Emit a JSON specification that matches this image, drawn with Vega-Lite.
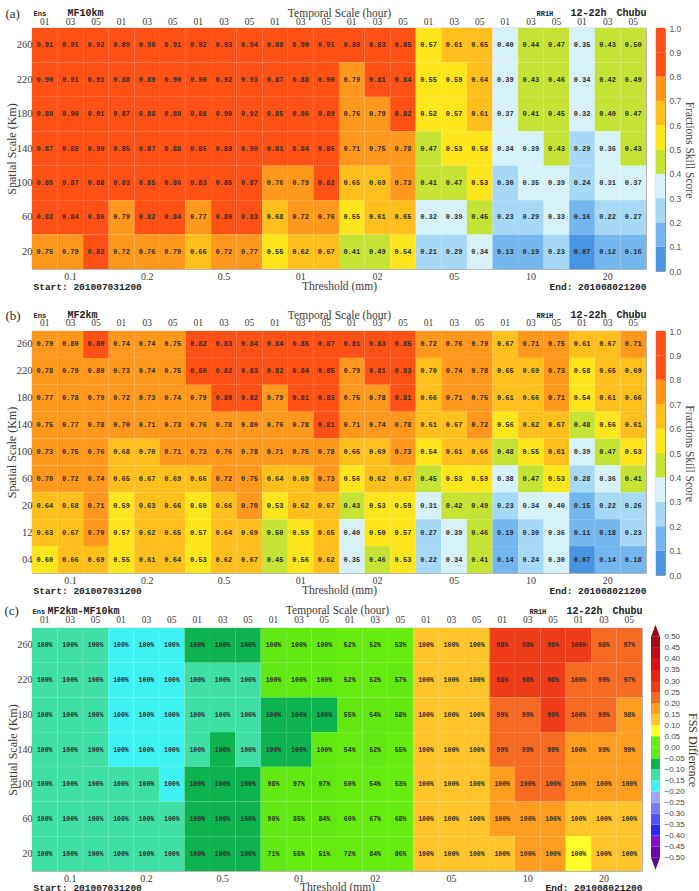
{
  "$schema": "https://vega.github.io/schema/vega-lite/v6.json",
  "background": "white",
  "padding": {"left": 3, "top": 6, "right": 0, "bottom": 0},
  "config": {
    "font": "Liberation Serif",
    "view": {"stroke": "#8c8c8c", "strokeWidth": 0.8},
    "axis": {"ticks": false, "domain": false, "grid": false, "labelFont": "Liberation Serif", "titleFont": "Liberation Serif", "labelColor": "#3a3a3a", "titleColor": "#3a3a3a", "titleFontWeight": "normal", "labelOverlap": false, "labelFlush": false}
  },
  "datasets": {
    "fssbar": [
      {"lo": 0, "hi": 0.1, "m": 0.05}, {"lo": 0.1, "hi": 0.2, "m": 0.15}, {"lo": 0.2, "hi": 0.3, "m": 0.25}, {"lo": 0.3, "hi": 0.4, "m": 0.35}, {"lo": 0.4, "hi": 0.5, "m": 0.45},
      {"lo": 0.5, "hi": 0.6, "m": 0.55}, {"lo": 0.6, "hi": 0.7, "m": 0.65}, {"lo": 0.7, "hi": 0.8, "m": 0.75}, {"lo": 0.8, "hi": 0.9, "m": 0.85}, {"lo": 0.9, "hi": 1, "m": 0.95}
    ],
    "diffbar": [
      {"lo": -0.5, "hi": -0.45, "m": -0.475}, {"lo": -0.45, "hi": -0.4, "m": -0.425}, {"lo": -0.4, "hi": -0.35, "m": -0.375}, {"lo": -0.35, "hi": -0.3, "m": -0.325},
      {"lo": -0.3, "hi": -0.25, "m": -0.275}, {"lo": -0.25, "hi": -0.2, "m": -0.225}, {"lo": -0.2, "hi": -0.15, "m": -0.175}, {"lo": -0.15, "hi": -0.1, "m": -0.125},
      {"lo": -0.1, "hi": -0.05, "m": -0.075}, {"lo": -0.05, "hi": 0, "m": -0.025}, {"lo": 0, "hi": 0.05, "m": 0.025}, {"lo": 0.05, "hi": 0.1, "m": 0.075},
      {"lo": 0.1, "hi": 0.15, "m": 0.125}, {"lo": 0.15, "hi": 0.2, "m": 0.175}, {"lo": 0.2, "hi": 0.25, "m": 0.225}, {"lo": 0.25, "hi": 0.3, "m": 0.275},
      {"lo": 0.3, "hi": 0.35, "m": 0.325}, {"lo": 0.35, "hi": 0.4, "m": 0.375}, {"lo": 0.4, "hi": 0.45, "m": 0.425}, {"lo": 0.45, "hi": 0.5, "m": 0.475}
    ],
    "ends": [{"b": 0.5, "side": "above", "m": 0.6}, {"b": -0.5, "side": "below", "m": -0.6}],
    "a": [
      {"c":"0.1 01","k":"260","v":0.91},{"c":"0.1 03","k":"260","v":0.91},{"c":"0.1 05","k":"260","v":0.92},{"c":"0.2 01","k":"260","v":0.89},{"c":"0.2 03","k":"260","v":0.9},{"c":"0.2 05","k":"260","v":0.91},
      {"c":"0.5 01","k":"260","v":0.92},{"c":"0.5 03","k":"260","v":0.93},{"c":"0.5 05","k":"260","v":0.94},{"c":"01 01","k":"260","v":0.88},{"c":"01 03","k":"260","v":0.9},{"c":"01 05","k":"260","v":0.91},
      {"c":"02 01","k":"260","v":0.8},{"c":"02 03","k":"260","v":0.83},{"c":"02 05","k":"260","v":0.85},{"c":"05 01","k":"260","v":0.57},{"c":"05 03","k":"260","v":0.61},{"c":"05 05","k":"260","v":0.65},
      {"c":"10 01","k":"260","v":0.398},{"c":"10 03","k":"260","v":0.44},{"c":"10 05","k":"260","v":0.47},{"c":"20 01","k":"260","v":0.35},{"c":"20 03","k":"260","v":0.43},{"c":"20 05","k":"260","v":0.498},
      {"c":"0.1 01","k":"220","v":0.9},{"c":"0.1 03","k":"220","v":0.91},{"c":"0.1 05","k":"220","v":0.91},{"c":"0.2 01","k":"220","v":0.88},{"c":"0.2 03","k":"220","v":0.89},{"c":"0.2 05","k":"220","v":0.9},
      {"c":"0.5 01","k":"220","v":0.9},{"c":"0.5 03","k":"220","v":0.92},{"c":"0.5 05","k":"220","v":0.93},{"c":"01 01","k":"220","v":0.87},{"c":"01 03","k":"220","v":0.88},{"c":"01 05","k":"220","v":0.9},
      {"c":"02 01","k":"220","v":0.79},{"c":"02 03","k":"220","v":0.81},{"c":"02 05","k":"220","v":0.84},{"c":"05 01","k":"220","v":0.55},{"c":"05 03","k":"220","v":0.59},{"c":"05 05","k":"220","v":0.64},
      {"c":"10 01","k":"220","v":0.39},{"c":"10 03","k":"220","v":0.43},{"c":"10 05","k":"220","v":0.46},{"c":"20 01","k":"220","v":0.34},{"c":"20 03","k":"220","v":0.42},{"c":"20 05","k":"220","v":0.49},
      {"c":"0.1 01","k":"180","v":0.89},{"c":"0.1 03","k":"180","v":0.9},{"c":"0.1 05","k":"180","v":0.91},{"c":"0.2 01","k":"180","v":0.87},{"c":"0.2 03","k":"180","v":0.88},{"c":"0.2 05","k":"180","v":0.89},
      {"c":"0.5 01","k":"180","v":0.88},{"c":"0.5 03","k":"180","v":0.9},{"c":"0.5 05","k":"180","v":0.92},{"c":"01 01","k":"180","v":0.85},{"c":"01 03","k":"180","v":0.86},{"c":"01 05","k":"180","v":0.89},
      {"c":"02 01","k":"180","v":0.76},{"c":"02 03","k":"180","v":0.79},{"c":"02 05","k":"180","v":0.82},{"c":"05 01","k":"180","v":0.52},{"c":"05 03","k":"180","v":0.57},{"c":"05 05","k":"180","v":0.61},
      {"c":"10 01","k":"180","v":0.37},{"c":"10 03","k":"180","v":0.41},{"c":"10 05","k":"180","v":0.45},{"c":"20 01","k":"180","v":0.32},{"c":"20 03","k":"180","v":0.4},{"c":"20 05","k":"180","v":0.47},
      {"c":"0.1 01","k":"140","v":0.87},{"c":"0.1 03","k":"140","v":0.88},{"c":"0.1 05","k":"140","v":0.9},{"c":"0.2 01","k":"140","v":0.85},{"c":"0.2 03","k":"140","v":0.87},{"c":"0.2 05","k":"140","v":0.88},
      {"c":"0.5 01","k":"140","v":0.86},{"c":"0.5 03","k":"140","v":0.88},{"c":"0.5 05","k":"140","v":0.9},{"c":"01 01","k":"140","v":0.81},{"c":"01 03","k":"140","v":0.84},{"c":"01 05","k":"140","v":0.86},
      {"c":"02 01","k":"140","v":0.71},{"c":"02 03","k":"140","v":0.75},{"c":"02 05","k":"140","v":0.78},{"c":"05 01","k":"140","v":0.47},{"c":"05 03","k":"140","v":0.53},{"c":"05 05","k":"140","v":0.58},
      {"c":"10 01","k":"140","v":0.34},{"c":"10 03","k":"140","v":0.39},{"c":"10 05","k":"140","v":0.43},{"c":"20 01","k":"140","v":0.29},{"c":"20 03","k":"140","v":0.36},{"c":"20 05","k":"140","v":0.43},
      {"c":"0.1 01","k":"100","v":0.85},{"c":"0.1 03","k":"100","v":0.87},{"c":"0.1 05","k":"100","v":0.88},{"c":"0.2 01","k":"100","v":0.83},{"c":"0.2 03","k":"100","v":0.85},{"c":"0.2 05","k":"100","v":0.86},
      {"c":"0.5 01","k":"100","v":0.83},{"c":"0.5 03","k":"100","v":0.85},{"c":"0.5 05","k":"100","v":0.87},{"c":"01 01","k":"100","v":0.76},{"c":"01 03","k":"100","v":0.79},{"c":"01 05","k":"100","v":0.82},
      {"c":"02 01","k":"100","v":0.65},{"c":"02 03","k":"100","v":0.69},{"c":"02 05","k":"100","v":0.73},{"c":"05 01","k":"100","v":0.41},{"c":"05 03","k":"100","v":0.47},{"c":"05 05","k":"100","v":0.53},
      {"c":"10 01","k":"100","v":0.298},{"c":"10 03","k":"100","v":0.35},{"c":"10 05","k":"100","v":0.39},{"c":"20 01","k":"100","v":0.24},{"c":"20 03","k":"100","v":0.31},{"c":"20 05","k":"100","v":0.37},
      {"c":"0.1 01","k":"60","v":0.82},{"c":"0.1 03","k":"60","v":0.84},{"c":"0.1 05","k":"60","v":0.86},{"c":"0.2 01","k":"60","v":0.79},{"c":"0.2 03","k":"60","v":0.82},{"c":"0.2 05","k":"60","v":0.84},
      {"c":"0.5 01","k":"60","v":0.77},{"c":"0.5 03","k":"60","v":0.8},{"c":"0.5 05","k":"60","v":0.83},{"c":"01 01","k":"60","v":0.68},{"c":"01 03","k":"60","v":0.72},{"c":"01 05","k":"60","v":0.76},
      {"c":"02 01","k":"60","v":0.55},{"c":"02 03","k":"60","v":0.61},{"c":"02 05","k":"60","v":0.65},{"c":"05 01","k":"60","v":0.32},{"c":"05 03","k":"60","v":0.39},{"c":"05 05","k":"60","v":0.45},
      {"c":"10 01","k":"60","v":0.23},{"c":"10 03","k":"60","v":0.29},{"c":"10 05","k":"60","v":0.33},{"c":"20 01","k":"60","v":0.16},{"c":"20 03","k":"60","v":0.22},{"c":"20 05","k":"60","v":0.27},
      {"c":"0.1 01","k":"20","v":0.75},{"c":"0.1 03","k":"20","v":0.79},{"c":"0.1 05","k":"20","v":0.82},{"c":"0.2 01","k":"20","v":0.72},{"c":"0.2 03","k":"20","v":0.76},{"c":"0.2 05","k":"20","v":0.79},
      {"c":"0.5 01","k":"20","v":0.66},{"c":"0.5 03","k":"20","v":0.72},{"c":"0.5 05","k":"20","v":0.77},{"c":"01 01","k":"20","v":0.55},{"c":"01 03","k":"20","v":0.62},{"c":"01 05","k":"20","v":0.67},
      {"c":"02 01","k":"20","v":0.41},{"c":"02 03","k":"20","v":0.49},{"c":"02 05","k":"20","v":0.54},{"c":"05 01","k":"20","v":0.21},{"c":"05 03","k":"20","v":0.29},{"c":"05 05","k":"20","v":0.34},
      {"c":"10 01","k":"20","v":0.13},{"c":"10 03","k":"20","v":0.19},{"c":"10 05","k":"20","v":0.23},{"c":"20 01","k":"20","v":0.07},{"c":"20 03","k":"20","v":0.12},{"c":"20 05","k":"20","v":0.16}
    ],
    "b": [
      {"c":"0.1 01","k":"260","v":0.79},{"c":"0.1 03","k":"260","v":0.798},{"c":"0.1 05","k":"260","v":0.8},{"c":"0.2 01","k":"260","v":0.74},{"c":"0.2 03","k":"260","v":0.74},{"c":"0.2 05","k":"260","v":0.75},
      {"c":"0.5 01","k":"260","v":0.82},{"c":"0.5 03","k":"260","v":0.83},{"c":"0.5 05","k":"260","v":0.84},{"c":"01 01","k":"260","v":0.84},{"c":"01 03","k":"260","v":0.85},{"c":"01 05","k":"260","v":0.87},
      {"c":"02 01","k":"260","v":0.81},{"c":"02 03","k":"260","v":0.83},{"c":"02 05","k":"260","v":0.85},{"c":"05 01","k":"260","v":0.72},{"c":"05 03","k":"260","v":0.76},{"c":"05 05","k":"260","v":0.79},
      {"c":"10 01","k":"260","v":0.67},{"c":"10 03","k":"260","v":0.71},{"c":"10 05","k":"260","v":0.75},{"c":"20 01","k":"260","v":0.61},{"c":"20 03","k":"260","v":0.67},{"c":"20 05","k":"260","v":0.71},
      {"c":"0.1 01","k":"220","v":0.78},{"c":"0.1 03","k":"220","v":0.79},{"c":"0.1 05","k":"220","v":0.798},{"c":"0.2 01","k":"220","v":0.73},{"c":"0.2 03","k":"220","v":0.74},{"c":"0.2 05","k":"220","v":0.75},
      {"c":"0.5 01","k":"220","v":0.8},{"c":"0.5 03","k":"220","v":0.82},{"c":"0.5 05","k":"220","v":0.83},{"c":"01 01","k":"220","v":0.82},{"c":"01 03","k":"220","v":0.84},{"c":"01 05","k":"220","v":0.85},
      {"c":"02 01","k":"220","v":0.79},{"c":"02 03","k":"220","v":0.81},{"c":"02 05","k":"220","v":0.83},{"c":"05 01","k":"220","v":0.698},{"c":"05 03","k":"220","v":0.74},{"c":"05 05","k":"220","v":0.78},
      {"c":"10 01","k":"220","v":0.65},{"c":"10 03","k":"220","v":0.69},{"c":"10 05","k":"220","v":0.73},{"c":"20 01","k":"220","v":0.58},{"c":"20 03","k":"220","v":0.65},{"c":"20 05","k":"220","v":0.69},
      {"c":"0.1 01","k":"180","v":0.77},{"c":"0.1 03","k":"180","v":0.78},{"c":"0.1 05","k":"180","v":0.79},{"c":"0.2 01","k":"180","v":0.72},{"c":"0.2 03","k":"180","v":0.73},{"c":"0.2 05","k":"180","v":0.74},
      {"c":"0.5 01","k":"180","v":0.79},{"c":"0.5 03","k":"180","v":0.8},{"c":"0.5 05","k":"180","v":0.82},{"c":"01 01","k":"180","v":0.79},{"c":"01 03","k":"180","v":0.81},{"c":"01 05","k":"180","v":0.83},
      {"c":"02 01","k":"180","v":0.75},{"c":"02 03","k":"180","v":0.78},{"c":"02 05","k":"180","v":0.81},{"c":"05 01","k":"180","v":0.66},{"c":"05 03","k":"180","v":0.71},{"c":"05 05","k":"180","v":0.75},
      {"c":"10 01","k":"180","v":0.61},{"c":"10 03","k":"180","v":0.66},{"c":"10 05","k":"180","v":0.71},{"c":"20 01","k":"180","v":0.54},{"c":"20 03","k":"180","v":0.61},{"c":"20 05","k":"180","v":0.66},
      {"c":"0.1 01","k":"140","v":0.75},{"c":"0.1 03","k":"140","v":0.77},{"c":"0.1 05","k":"140","v":0.78},{"c":"0.2 01","k":"140","v":0.7},{"c":"0.2 03","k":"140","v":0.71},{"c":"0.2 05","k":"140","v":0.73},
      {"c":"0.5 01","k":"140","v":0.76},{"c":"0.5 03","k":"140","v":0.78},{"c":"0.5 05","k":"140","v":0.798},{"c":"01 01","k":"140","v":0.76},{"c":"01 03","k":"140","v":0.78},{"c":"01 05","k":"140","v":0.81},
      {"c":"02 01","k":"140","v":0.71},{"c":"02 03","k":"140","v":0.74},{"c":"02 05","k":"140","v":0.78},{"c":"05 01","k":"140","v":0.61},{"c":"05 03","k":"140","v":0.67},{"c":"05 05","k":"140","v":0.72},
      {"c":"10 01","k":"140","v":0.56},{"c":"10 03","k":"140","v":0.62},{"c":"10 05","k":"140","v":0.67},{"c":"20 01","k":"140","v":0.48},{"c":"20 03","k":"140","v":0.56},{"c":"20 05","k":"140","v":0.61},
      {"c":"0.1 01","k":"100","v":0.73},{"c":"0.1 03","k":"100","v":0.75},{"c":"0.1 05","k":"100","v":0.76},{"c":"0.2 01","k":"100","v":0.68},{"c":"0.2 03","k":"100","v":0.698},{"c":"0.2 05","k":"100","v":0.71},
      {"c":"0.5 01","k":"100","v":0.73},{"c":"0.5 03","k":"100","v":0.76},{"c":"0.5 05","k":"100","v":0.78},{"c":"01 01","k":"100","v":0.71},{"c":"01 03","k":"100","v":0.75},{"c":"01 05","k":"100","v":0.78},
      {"c":"02 01","k":"100","v":0.65},{"c":"02 03","k":"100","v":0.69},{"c":"02 05","k":"100","v":0.73},{"c":"05 01","k":"100","v":0.54},{"c":"05 03","k":"100","v":0.61},{"c":"05 05","k":"100","v":0.66},
      {"c":"10 01","k":"100","v":0.48},{"c":"10 03","k":"100","v":0.55},{"c":"10 05","k":"100","v":0.61},{"c":"20 01","k":"100","v":0.39},{"c":"20 03","k":"100","v":0.47},{"c":"20 05","k":"100","v":0.53},
      {"c":"0.1 01","k":"60","v":0.7},{"c":"0.1 03","k":"60","v":0.72},{"c":"0.1 05","k":"60","v":0.74},{"c":"0.2 01","k":"60","v":0.65},{"c":"0.2 03","k":"60","v":0.67},{"c":"0.2 05","k":"60","v":0.69},
      {"c":"0.5 01","k":"60","v":0.66},{"c":"0.5 03","k":"60","v":0.72},{"c":"0.5 05","k":"60","v":0.75},{"c":"01 01","k":"60","v":0.64},{"c":"01 03","k":"60","v":0.69},{"c":"01 05","k":"60","v":0.73},
      {"c":"02 01","k":"60","v":0.56},{"c":"02 03","k":"60","v":0.62},{"c":"02 05","k":"60","v":0.67},{"c":"05 01","k":"60","v":0.45},{"c":"05 03","k":"60","v":0.53},{"c":"05 05","k":"60","v":0.59},
      {"c":"10 01","k":"60","v":0.38},{"c":"10 03","k":"60","v":0.47},{"c":"10 05","k":"60","v":0.53},{"c":"20 01","k":"60","v":0.28},{"c":"20 03","k":"60","v":0.36},{"c":"20 05","k":"60","v":0.41},
      {"c":"0.1 01","k":"20","v":0.64},{"c":"0.1 03","k":"20","v":0.68},{"c":"0.1 05","k":"20","v":0.71},{"c":"0.2 01","k":"20","v":0.59},{"c":"0.2 03","k":"20","v":0.63},{"c":"0.2 05","k":"20","v":0.66},
      {"c":"0.5 01","k":"20","v":0.598},{"c":"0.5 03","k":"20","v":0.66},{"c":"0.5 05","k":"20","v":0.7},{"c":"01 01","k":"20","v":0.53},{"c":"01 03","k":"20","v":0.62},{"c":"01 05","k":"20","v":0.67},
      {"c":"02 01","k":"20","v":0.43},{"c":"02 03","k":"20","v":0.53},{"c":"02 05","k":"20","v":0.59},{"c":"05 01","k":"20","v":0.31},{"c":"05 03","k":"20","v":0.42},{"c":"05 05","k":"20","v":0.49},
      {"c":"10 01","k":"20","v":0.23},{"c":"10 03","k":"20","v":0.34},{"c":"10 05","k":"20","v":0.398},{"c":"20 01","k":"20","v":0.15},{"c":"20 03","k":"20","v":0.22},{"c":"20 05","k":"20","v":0.26},
      {"c":"0.1 01","k":"12","v":0.63},{"c":"0.1 03","k":"12","v":0.67},{"c":"0.1 05","k":"12","v":0.7},{"c":"0.2 01","k":"12","v":0.57},{"c":"0.2 03","k":"12","v":0.62},{"c":"0.2 05","k":"12","v":0.65},
      {"c":"0.5 01","k":"12","v":0.57},{"c":"0.5 03","k":"12","v":0.64},{"c":"0.5 05","k":"12","v":0.69},{"c":"01 01","k":"12","v":0.498},{"c":"01 03","k":"12","v":0.59},{"c":"01 05","k":"12","v":0.65},
      {"c":"02 01","k":"12","v":0.398},{"c":"02 03","k":"12","v":0.5},{"c":"02 05","k":"12","v":0.57},{"c":"05 01","k":"12","v":0.27},{"c":"05 03","k":"12","v":0.39},{"c":"05 05","k":"12","v":0.46},
      {"c":"10 01","k":"12","v":0.19},{"c":"10 03","k":"12","v":0.298},{"c":"10 05","k":"12","v":0.36},{"c":"20 01","k":"12","v":0.11},{"c":"20 03","k":"12","v":0.18},{"c":"20 05","k":"12","v":0.23},
      {"c":"0.1 01","k":"04","v":0.598},{"c":"0.1 03","k":"04","v":0.66},{"c":"0.1 05","k":"04","v":0.69},{"c":"0.2 01","k":"04","v":0.55},{"c":"0.2 03","k":"04","v":0.61},{"c":"0.2 05","k":"04","v":0.64},
      {"c":"0.5 01","k":"04","v":0.53},{"c":"0.5 03","k":"04","v":0.62},{"c":"0.5 05","k":"04","v":0.67},{"c":"01 01","k":"04","v":0.45},{"c":"01 03","k":"04","v":0.56},{"c":"01 05","k":"04","v":0.62},
      {"c":"02 01","k":"04","v":0.35},{"c":"02 03","k":"04","v":0.46},{"c":"02 05","k":"04","v":0.53},{"c":"05 01","k":"04","v":0.22},{"c":"05 03","k":"04","v":0.34},{"c":"05 05","k":"04","v":0.41},
      {"c":"10 01","k":"04","v":0.14},{"c":"10 03","k":"04","v":0.24},{"c":"10 05","k":"04","v":0.3},{"c":"20 01","k":"04","v":0.07},{"c":"20 03","k":"04","v":0.14},{"c":"20 05","k":"04","v":0.18}
    ],
    "c": [
      {"c":"0.1 01","k":"260","d":-0.12,"p":1},{"c":"0.1 03","k":"260","d":-0.11,"p":1},{"c":"0.1 05","k":"260","d":-0.12,"p":1},{"c":"0.2 01","k":"260","d":-0.152,"p":1},{"c":"0.2 03","k":"260","d":-0.16,"p":1},{"c":"0.2 05","k":"260","d":-0.16,"p":1},
      {"c":"0.5 01","k":"260","d":-0.1,"p":1},{"c":"0.5 03","k":"260","d":-0.1,"p":1},{"c":"0.5 05","k":"260","d":-0.1,"p":1},{"c":"01 01","k":"260","d":-0.04,"p":1},{"c":"01 03","k":"260","d":-0.048,"p":1},{"c":"01 05","k":"260","d":-0.04,"p":1},
      {"c":"02 01","k":"260","d":0.01,"p":0.52},{"c":"02 03","k":"260","d":0,"p":0.52},{"c":"02 05","k":"260","d":0,"p":0.53},{"c":"05 01","k":"260","d":0.148,"p":1},{"c":"05 03","k":"260","d":0.148,"p":1},{"c":"05 05","k":"260","d":0.14,"p":1},
      {"c":"10 01","k":"260","d":0.27,"p":0.98},{"c":"10 03","k":"260","d":0.27,"p":0.98},{"c":"10 05","k":"260","d":0.28,"p":0.98},{"c":"20 01","k":"260","d":0.26,"p":1},{"c":"20 03","k":"260","d":0.24,"p":0.98},{"c":"20 05","k":"260","d":0.21,"p":0.97},
      {"c":"0.1 01","k":"220","d":-0.12,"p":1},{"c":"0.1 03","k":"220","d":-0.12,"p":1},{"c":"0.1 05","k":"220","d":-0.11,"p":1},{"c":"0.2 01","k":"220","d":-0.152,"p":1},{"c":"0.2 03","k":"220","d":-0.152,"p":1},{"c":"0.2 05","k":"220","d":-0.152,"p":1},
      {"c":"0.5 01","k":"220","d":-0.102,"p":1},{"c":"0.5 03","k":"220","d":-0.102,"p":1},{"c":"0.5 05","k":"220","d":-0.102,"p":1},{"c":"01 01","k":"220","d":-0.048,"p":1},{"c":"01 03","k":"220","d":-0.04,"p":1},{"c":"01 05","k":"220","d":-0.048,"p":1},
      {"c":"02 01","k":"220","d":0,"p":0.52},{"c":"02 03","k":"220","d":0,"p":0.52},{"c":"02 05","k":"220","d":-0.01,"p":0.57},{"c":"05 01","k":"220","d":0.148,"p":1},{"c":"05 03","k":"220","d":0.148,"p":1},{"c":"05 05","k":"220","d":0.14,"p":1},
      {"c":"10 01","k":"220","d":0.26,"p":0.98},{"c":"10 03","k":"220","d":0.26,"p":0.98},{"c":"10 05","k":"220","d":0.27,"p":0.98},{"c":"20 01","k":"220","d":0.24,"p":1},{"c":"20 03","k":"220","d":0.23,"p":0.99},{"c":"20 05","k":"220","d":0.2,"p":0.97},
      {"c":"0.1 01","k":"180","d":-0.12,"p":1},{"c":"0.1 03","k":"180","d":-0.12,"p":1},{"c":"0.1 05","k":"180","d":-0.12,"p":1},{"c":"0.2 01","k":"180","d":-0.152,"p":1},{"c":"0.2 03","k":"180","d":-0.152,"p":1},{"c":"0.2 05","k":"180","d":-0.152,"p":1},
      {"c":"0.5 01","k":"180","d":-0.105,"p":1},{"c":"0.5 03","k":"180","d":-0.105,"p":1},{"c":"0.5 05","k":"180","d":-0.105,"p":1},{"c":"01 01","k":"180","d":-0.06,"p":1},{"c":"01 03","k":"180","d":-0.052,"p":1},{"c":"01 05","k":"180","d":-0.06,"p":1},
      {"c":"02 01","k":"180","d":-0.01,"p":0.55},{"c":"02 03","k":"180","d":-0.01,"p":0.54},{"c":"02 05","k":"180","d":-0.01,"p":0.58},{"c":"05 01","k":"180","d":0.14,"p":1},{"c":"05 03","k":"180","d":0.14,"p":1},{"c":"05 05","k":"180","d":0.14,"p":1},
      {"c":"10 01","k":"180","d":0.24,"p":0.99},{"c":"10 03","k":"180","d":0.248,"p":0.99},{"c":"10 05","k":"180","d":0.26,"p":0.99},{"c":"20 01","k":"180","d":0.22,"p":1},{"c":"20 03","k":"180","d":0.21,"p":0.99},{"c":"20 05","k":"180","d":0.19,"p":0.98},
      {"c":"0.1 01","k":"140","d":-0.12,"p":1},{"c":"0.1 03","k":"140","d":-0.11,"p":1},{"c":"0.1 05","k":"140","d":-0.12,"p":1},{"c":"0.2 01","k":"140","d":-0.152,"p":1},{"c":"0.2 03","k":"140","d":-0.16,"p":1},{"c":"0.2 05","k":"140","d":-0.152,"p":1},
      {"c":"0.5 01","k":"140","d":-0.102,"p":1},{"c":"0.5 03","k":"140","d":-0.098,"p":1},{"c":"0.5 05","k":"140","d":-0.102,"p":1},{"c":"01 01","k":"140","d":-0.052,"p":1},{"c":"01 03","k":"140","d":-0.06,"p":1},{"c":"01 05","k":"140","d":-0.048,"p":1},
      {"c":"02 01","k":"140","d":0,"p":0.54},{"c":"02 03","k":"140","d":-0.01,"p":0.52},{"c":"02 05","k":"140","d":0,"p":0.55},{"c":"05 01","k":"140","d":0.14,"p":1},{"c":"05 03","k":"140","d":0.14,"p":1},{"c":"05 05","k":"140","d":0.14,"p":1},
      {"c":"10 01","k":"140","d":0.22,"p":0.99},{"c":"10 03","k":"140","d":0.23,"p":0.99},{"c":"10 05","k":"140","d":0.24,"p":0.99},{"c":"20 01","k":"140","d":0.19,"p":1},{"c":"20 03","k":"140","d":0.198,"p":0.99},{"c":"20 05","k":"140","d":0.18,"p":0.99},
      {"c":"0.1 01","k":"100","d":-0.12,"p":1},{"c":"0.1 03","k":"100","d":-0.12,"p":1},{"c":"0.1 05","k":"100","d":-0.12,"p":1},{"c":"0.2 01","k":"100","d":-0.148,"p":1},{"c":"0.2 03","k":"100","d":-0.148,"p":1},{"c":"0.2 05","k":"100","d":-0.152,"p":1},
      {"c":"0.5 01","k":"100","d":-0.1,"p":1},{"c":"0.5 03","k":"100","d":-0.09,"p":1},{"c":"0.5 05","k":"100","d":-0.09,"p":1},{"c":"01 01","k":"100","d":-0.048,"p":0.98},{"c":"01 03","k":"100","d":-0.04,"p":0.97},{"c":"01 05","k":"100","d":-0.04,"p":0.97},
      {"c":"02 01","k":"100","d":0,"p":0.5},{"c":"02 03","k":"100","d":0,"p":0.54},{"c":"02 05","k":"100","d":0,"p":0.53},{"c":"05 01","k":"100","d":0.13,"p":1},{"c":"05 03","k":"100","d":0.14,"p":1},{"c":"05 05","k":"100","d":0.13,"p":1},
      {"c":"10 01","k":"100","d":0.18,"p":1},{"c":"10 03","k":"100","d":0.2,"p":1},{"c":"10 05","k":"100","d":0.22,"p":1},{"c":"20 01","k":"100","d":0.15,"p":1},{"c":"20 03","k":"100","d":0.16,"p":1},{"c":"20 05","k":"100","d":0.16,"p":1},
      {"c":"0.1 01","k":"60","d":-0.12,"p":1},{"c":"0.1 03","k":"60","d":-0.12,"p":1},{"c":"0.1 05","k":"60","d":-0.12,"p":1},{"c":"0.2 01","k":"60","d":-0.14,"p":1},{"c":"0.2 03","k":"60","d":-0.148,"p":1},{"c":"0.2 05","k":"60","d":-0.148,"p":1},
      {"c":"0.5 01","k":"60","d":-0.09,"p":1},{"c":"0.5 03","k":"60","d":-0.08,"p":1},{"c":"0.5 05","k":"60","d":-0.08,"p":1},{"c":"01 01","k":"60","d":-0.04,"p":0.9},{"c":"01 03","k":"60","d":-0.03,"p":0.85},{"c":"01 05","k":"60","d":-0.03,"p":0.84},
      {"c":"02 01","k":"60","d":0.01,"p":0.6},{"c":"02 03","k":"60","d":0.01,"p":0.67},{"c":"02 05","k":"60","d":0.02,"p":0.68},{"c":"05 01","k":"60","d":0.13,"p":1},{"c":"05 03","k":"60","d":0.14,"p":1},{"c":"05 05","k":"60","d":0.14,"p":1},
      {"c":"10 01","k":"60","d":0.15,"p":1},{"c":"10 03","k":"60","d":0.18,"p":1},{"c":"10 05","k":"60","d":0.198,"p":1},{"c":"20 01","k":"60","d":0.12,"p":1},{"c":"20 03","k":"60","d":0.14,"p":1},{"c":"20 05","k":"60","d":0.14,"p":1},
      {"c":"0.1 01","k":"20","d":-0.11,"p":1},{"c":"0.1 03","k":"20","d":-0.11,"p":1},{"c":"0.1 05","k":"20","d":-0.11,"p":1},{"c":"0.2 01","k":"20","d":-0.13,"p":1},{"c":"0.2 03","k":"20","d":-0.13,"p":1},{"c":"0.2 05","k":"20","d":-0.13,"p":1},
      {"c":"0.5 01","k":"20","d":-0.06,"p":1},{"c":"0.5 03","k":"20","d":-0.06,"p":1},{"c":"0.5 05","k":"20","d":-0.07,"p":1},{"c":"01 01","k":"20","d":-0.02,"p":0.71},{"c":"01 03","k":"20","d":0,"p":0.55},{"c":"01 05","k":"20","d":0,"p":0.51},
      {"c":"02 01","k":"20","d":0.02,"p":0.72},{"c":"02 03","k":"20","d":0.04,"p":0.84},{"c":"02 05","k":"20","d":0.048,"p":0.86},{"c":"05 01","k":"20","d":0.1,"p":1},{"c":"05 03","k":"20","d":0.13,"p":1},{"c":"05 05","k":"20","d":0.148,"p":1},
      {"c":"10 01","k":"20","d":0.1,"p":1},{"c":"10 03","k":"20","d":0.15,"p":1},{"c":"10 05","k":"20","d":0.17,"p":1},{"c":"20 01","k":"20","d":0.08,"p":1},{"c":"20 03","k":"20","d":0.1,"p":1},{"c":"20 05","k":"20","d":0.1,"p":1}
    ]
  },
  "resolve": {"scale": {"color": "independent"}},
  "spacing": 15,
  "vconcat": [
    {
      "spacing": 8,
      "resolve": {"scale": {"color": "independent"}},
      "hconcat": [
        {
          "width": 614,
          "height": 241,
          "resolve": {"scale": {"x": "independent"}, "axis": {"x": "independent"}},
          "layer": [
            {
              "data": {"name": "a"},
              "mark": {"type": "rect"},
              "encoding": {
                "x": {"field": "c", "type": "ordinal", "sort": null, "scale": {"paddingInner": 0, "paddingOuter": 0},
                  "axis": {"orient": "top", "labelExpr": "split(datum.label, ' ')[1]", "labelAngle": 0, "labelFontSize": 9.5, "labelBaseline": "alphabetic", "labelPadding": 4, "title": "Temporal Scale (hour)", "titleFontSize": 11.5, "titleBaseline": "alphabetic", "titleY": -11.5}},
                "y": {"field": "k", "type": "ordinal", "sort": null, "scale": {"domain": ["260", "220", "180", "140", "100", "60", "20"], "paddingInner": 0, "paddingOuter": 0},
                  "axis": {"title": "Spatial Scale (Km)", "labelFontSize": 10.5, "labelPadding": 0, "titleFontSize": 12, "titlePadding": -2}},
                "color": {"field": "v", "type": "quantitative", "legend": null,
                  "scale": {"type": "threshold", "domain": [0.1, 0.2, 0.3, 0.4, 0.5, 0.6, 0.7, 0.8], "range": ["#4a94e4", "#74b6ee", "#a6d9f5", "#d6f1f8", "#c5e335", "#ffe51c", "#ffbf1c", "#ff981c", "#ff5116"]}}
              }
            },
            {
              "data": {"name": "a"},
              "mark": {"type": "text", "font": "Liberation Mono", "fontWeight": "bold", "fontSize": 7, "color": "#2b2b2b"},
              "encoding": {
                "x": {"field": "c", "type": "ordinal", "sort": null, "axis": null},
                "y": {"field": "k", "type": "ordinal", "sort": null},
                "text": {"field": "v", "type": "quantitative", "format": ".2f"}
              }
            },
            {
              "data": {"name": "a"}, "transform": [{"filter": "datum.k === '260'"}],
              "mark": {"type": "rect", "opacity": 0},
              "encoding": {"y": {"field": "k", "type": "ordinal", "sort": null}, "x": {"field": "c", "type": "ordinal", "sort": null, "scale": {"paddingInner": 0, "paddingOuter": 0},
                "axis": {"orient": "bottom", "labelExpr": "split(datum.label, ' ')[1] === '03' ? split(datum.label, ' ')[0] : ''", "labelAngle": 0, "labelFontSize": 10, "labelBaseline": "alphabetic", "labelPadding": 10, "title": "Threshold (mm)", "titleFontSize": 11.5, "titleBaseline": "alphabetic", "titleY": 20.5}}}
            },
            {
              "data": {"name": "a"}, "transform": [{"filter": "datum.k === '260'"}],
              "mark": {"type": "rect", "opacity": 0},
              "encoding": {"y": {"field": "k", "type": "ordinal", "sort": null}, "x": {"field": "c", "type": "ordinal", "sort": null,
                "axis": {"orient": "top", "labels": false, "title": "(a)", "titleFont": "Liberation Serif", "titleFontSize": 13, "titleColor": "#2a2a2a", "titleAlign": "left", "titleBaseline": "alphabetic", "titleX": -27, "titleY": -11}}}
            },
            {
              "data": {"name": "a"}, "transform": [{"filter": "datum.k === '260'"}],
              "mark": {"type": "rect", "opacity": 0},
              "encoding": {"y": {"field": "k", "type": "ordinal", "sort": null}, "x": {"field": "c", "type": "ordinal", "sort": null,
                "axis": {"orient": "bottom", "labels": false, "title": "Start:\u00a0201007031200", "titleFont": "Liberation Mono", "titleFontWeight": "bold", "titleFontSize": 9.5, "titleColor": "#222", "titleAlign": "left", "titleBaseline": "alphabetic", "titleX": 1, "titleY": 20.5}}}
            },
            {
              "data": {"name": "a"}, "transform": [{"filter": "datum.k === '260'"}],
              "mark": {"type": "rect", "opacity": 0},
              "encoding": {"y": {"field": "k", "type": "ordinal", "sort": null}, "x": {"field": "c", "type": "ordinal", "sort": null,
                "axis": {"orient": "bottom", "labels": false, "title": "End:\u00a0201008021200", "titleFont": "Liberation Mono", "titleFontWeight": "bold", "titleFontSize": 9.5, "titleColor": "#222", "titleAlign": "right", "titleBaseline": "alphabetic", "titleX": 614, "titleY": 20.5}}}
            },
            {
              "data": {"name": "a"}, "transform": [{"filter": "datum.k === '260'"}],
              "mark": {"type": "rect", "opacity": 0},
              "encoding": {"y": {"field": "k", "type": "ordinal", "sort": null}, "x": {"field": "c", "type": "ordinal", "sort": null,
                "axis": {"orient": "top", "labels": false, "title": "Ens", "titleFont": "Liberation Mono", "titleFontWeight": "bold", "titleFontSize": 7, "titleColor": "#222", "titleAlign": "left", "titleBaseline": "alphabetic", "titleX": 1, "titleY": -12.5}}}
            },
            {
              "data": {"name": "a"}, "transform": [{"filter": "datum.k === '260'"}],
              "mark": {"type": "rect", "opacity": 0},
              "encoding": {"y": {"field": "k", "type": "ordinal", "sort": null}, "x": {"field": "c", "type": "ordinal", "sort": null,
                "axis": {"orient": "top", "labels": false, "title": "MF10km", "titleFont": "Liberation Mono", "titleFontWeight": "bold", "titleFontSize": 10, "titleColor": "#222", "titleAlign": "left", "titleBaseline": "alphabetic", "titleX": 35, "titleY": -12.5}}}
            },
            {
              "data": {"name": "a"}, "transform": [{"filter": "datum.k === '260'"}],
              "mark": {"type": "rect", "opacity": 0},
              "encoding": {"y": {"field": "k", "type": "ordinal", "sort": null}, "x": {"field": "c", "type": "ordinal", "sort": null,
                "axis": {"orient": "top", "labels": false, "title": "RR1H", "titleFont": "Liberation Mono", "titleFontWeight": "bold", "titleFontSize": 7, "titleColor": "#222", "titleAlign": "left", "titleBaseline": "alphabetic", "titleX": 504, "titleY": -12.5}}}
            },
            {
              "data": {"name": "a"}, "transform": [{"filter": "datum.k === '260'"}],
              "mark": {"type": "rect", "opacity": 0},
              "encoding": {"y": {"field": "k", "type": "ordinal", "sort": null}, "x": {"field": "c", "type": "ordinal", "sort": null,
                "axis": {"orient": "top", "labels": false, "title": "12-22h", "titleFont": "Liberation Mono", "titleFontWeight": "bold", "titleFontSize": 10, "titleColor": "#222", "titleAlign": "left", "titleBaseline": "alphabetic", "titleX": 538, "titleY": -12.5}}}
            },
            {
              "data": {"name": "a"}, "transform": [{"filter": "datum.k === '260'"}],
              "mark": {"type": "rect", "opacity": 0},
              "encoding": {"y": {"field": "k", "type": "ordinal", "sort": null}, "x": {"field": "c", "type": "ordinal", "sort": null,
                "axis": {"orient": "top", "labels": false, "title": "Chubu", "titleFont": "Liberation Mono", "titleFontWeight": "bold", "titleFontSize": 10, "titleColor": "#222", "titleAlign": "right", "titleBaseline": "alphabetic", "titleX": 614, "titleY": -12.5}}}
            }
          ]
        },
        {
          "width": 9,
          "height": 243,
          "view": {"stroke": "#5a5a5a", "strokeWidth": 0.8},
          "data": {"name": "fssbar"},
          "mark": {"type": "rect"},
          "encoding": {
            "y": {"field": "lo", "type": "quantitative", "scale": {"domain": [0, 1], "nice": false, "zero": false},
              "axis": {"orient": "right", "values": [0, 0.1, 0.2, 0.3, 0.4, 0.5, 0.6, 0.7, 0.8, 0.9, 1], "tickCount": 40, "format": ".1f", "labelOverlap": false, "labelFont": "Liberation Sans", "labelFontSize": 8.5, "labelColor": "#555", "labelPadding": 4, "title": "Fractions Skill Score", "titleFontSize": 11.5, "titleColor": "#444", "titlePadding": 3}},
            "y2": {"field": "hi"},
            "color": {"field": "m", "type": "quantitative", "legend": null,
              "scale": {"type": "threshold", "domain": [0.1, 0.2, 0.3, 0.4, 0.5, 0.6, 0.7, 0.8], "range": ["#4a94e4", "#74b6ee", "#a6d9f5", "#d6f1f8", "#c5e335", "#ffe51c", "#ffbf1c", "#ff981c", "#ff5116"]}}
          }
        }
      ]
    },
    {
      "spacing": 6,
      "resolve": {"scale": {"color": "independent"}},
      "vconcat": [
        {
          "spacing": 8,
          "resolve": {"scale": {"color": "independent"}},
          "hconcat": [
            {
              "width": 614,
              "height": 242,
              "resolve": {"scale": {"x": "independent"}, "axis": {"x": "independent"}},
              "layer": [
                {
                  "data": {"name": "b"},
                  "mark": {"type": "rect"},
                  "encoding": {
                    "x": {"field": "c", "type": "ordinal", "sort": null, "scale": {"paddingInner": 0, "paddingOuter": 0},
                      "axis": {"orient": "top", "labelExpr": "split(datum.label, ' ')[1]", "labelAngle": 0, "labelFontSize": 9.5, "labelBaseline": "alphabetic", "labelPadding": 5.5, "title": "Temporal Scale (hour)", "titleFontSize": 11.5, "titleBaseline": "alphabetic", "titleY": -13}},
                    "y": {"field": "k", "type": "ordinal", "sort": null, "scale": {"domain": ["260", "220", "180", "140", "100", "60", "20", "12", "04"], "paddingInner": 0, "paddingOuter": 0},
                      "axis": {"title": "Spatial Scale (Km)", "labelFontSize": 10.5, "labelPadding": 0, "titleFontSize": 12, "titlePadding": -2}},
                    "color": {"field": "v", "type": "quantitative", "legend": null,
                      "scale": {"type": "threshold", "domain": [0.1, 0.2, 0.3, 0.4, 0.5, 0.6, 0.7, 0.8], "range": ["#4a94e4", "#74b6ee", "#a6d9f5", "#d6f1f8", "#c5e335", "#ffe51c", "#ffbf1c", "#ff981c", "#ff5116"]}}
                  }
                },
                {
                  "data": {"name": "b"},
                  "mark": {"type": "text", "font": "Liberation Mono", "fontWeight": "bold", "fontSize": 7, "color": "#2b2b2b"},
                  "encoding": {
                    "x": {"field": "c", "type": "ordinal", "sort": null, "axis": null},
                    "y": {"field": "k", "type": "ordinal", "sort": null},
                    "text": {"field": "v", "type": "quantitative", "format": ".2f"}
                  }
                },
                {
                  "data": {"name": "b"}, "transform": [{"filter": "datum.k === '260'"}],
                  "mark": {"type": "rect", "opacity": 0},
                  "encoding": {"y": {"field": "k", "type": "ordinal", "sort": null}, "x": {"field": "c", "type": "ordinal", "sort": null, "scale": {"paddingInner": 0, "paddingOuter": 0},
                    "axis": {"orient": "bottom", "labelExpr": "split(datum.label, ' ')[1] === '03' ? split(datum.label, ' ')[0] : ''", "labelAngle": 0, "labelFontSize": 10, "labelBaseline": "alphabetic", "labelPadding": 10.5, "title": "Threshold (mm)", "titleFontSize": 11.5, "titleBaseline": "alphabetic", "titleY": 20.5}}}
                },
                {
                  "data": {"name": "b"}, "transform": [{"filter": "datum.k === '260'"}],
                  "mark": {"type": "rect", "opacity": 0},
                  "encoding": {"y": {"field": "k", "type": "ordinal", "sort": null}, "x": {"field": "c", "type": "ordinal", "sort": null,
                    "axis": {"orient": "top", "labels": false, "title": "(b)", "titleFont": "Liberation Serif", "titleFontSize": 13, "titleColor": "#2a2a2a", "titleAlign": "left", "titleBaseline": "alphabetic", "titleX": -27, "titleY": -12}}}
                },
                {
                  "data": {"name": "b"}, "transform": [{"filter": "datum.k === '260'"}],
                  "mark": {"type": "rect", "opacity": 0},
                  "encoding": {"y": {"field": "k", "type": "ordinal", "sort": null}, "x": {"field": "c", "type": "ordinal", "sort": null,
                    "axis": {"orient": "bottom", "labels": false, "title": "Start:\u00a0201007031200", "titleFont": "Liberation Mono", "titleFontWeight": "bold", "titleFontSize": 9.5, "titleColor": "#222", "titleAlign": "left", "titleBaseline": "alphabetic", "titleX": 1, "titleY": 20.5}}}
                },
                {
                  "data": {"name": "b"}, "transform": [{"filter": "datum.k === '260'"}],
                  "mark": {"type": "rect", "opacity": 0},
                  "encoding": {"y": {"field": "k", "type": "ordinal", "sort": null}, "x": {"field": "c", "type": "ordinal", "sort": null,
                    "axis": {"orient": "bottom", "labels": false, "title": "End:\u00a0201008021200", "titleFont": "Liberation Mono", "titleFontWeight": "bold", "titleFontSize": 9.5, "titleColor": "#222", "titleAlign": "right", "titleBaseline": "alphabetic", "titleX": 614, "titleY": 20.5}}}
                },
                {
                  "data": {"name": "b"}, "transform": [{"filter": "datum.k === '260'"}],
                  "mark": {"type": "rect", "opacity": 0},
                  "encoding": {"y": {"field": "k", "type": "ordinal", "sort": null}, "x": {"field": "c", "type": "ordinal", "sort": null,
                    "axis": {"orient": "top", "labels": false, "title": "Ens", "titleFont": "Liberation Mono", "titleFontWeight": "bold", "titleFontSize": 7, "titleColor": "#222", "titleAlign": "left", "titleBaseline": "alphabetic", "titleX": 1, "titleY": -14}}}
                },
                {
                  "data": {"name": "b"}, "transform": [{"filter": "datum.k === '260'"}],
                  "mark": {"type": "rect", "opacity": 0},
                  "encoding": {"y": {"field": "k", "type": "ordinal", "sort": null}, "x": {"field": "c", "type": "ordinal", "sort": null,
                    "axis": {"orient": "top", "labels": false, "title": "MF2km", "titleFont": "Liberation Mono", "titleFontWeight": "bold", "titleFontSize": 10, "titleColor": "#222", "titleAlign": "left", "titleBaseline": "alphabetic", "titleX": 35, "titleY": -14}}}
                },
                {
                  "data": {"name": "b"}, "transform": [{"filter": "datum.k === '260'"}],
                  "mark": {"type": "rect", "opacity": 0},
                  "encoding": {"y": {"field": "k", "type": "ordinal", "sort": null}, "x": {"field": "c", "type": "ordinal", "sort": null,
                    "axis": {"orient": "top", "labels": false, "title": "RR1H", "titleFont": "Liberation Mono", "titleFontWeight": "bold", "titleFontSize": 7, "titleColor": "#222", "titleAlign": "left", "titleBaseline": "alphabetic", "titleX": 504, "titleY": -14}}}
                },
                {
                  "data": {"name": "b"}, "transform": [{"filter": "datum.k === '260'"}],
                  "mark": {"type": "rect", "opacity": 0},
                  "encoding": {"y": {"field": "k", "type": "ordinal", "sort": null}, "x": {"field": "c", "type": "ordinal", "sort": null,
                    "axis": {"orient": "top", "labels": false, "title": "12-22h", "titleFont": "Liberation Mono", "titleFontWeight": "bold", "titleFontSize": 10, "titleColor": "#222", "titleAlign": "left", "titleBaseline": "alphabetic", "titleX": 538, "titleY": -14}}}
                },
                {
                  "data": {"name": "b"}, "transform": [{"filter": "datum.k === '260'"}],
                  "mark": {"type": "rect", "opacity": 0},
                  "encoding": {"y": {"field": "k", "type": "ordinal", "sort": null}, "x": {"field": "c", "type": "ordinal", "sort": null,
                    "axis": {"orient": "top", "labels": false, "title": "Chubu", "titleFont": "Liberation Mono", "titleFontWeight": "bold", "titleFontSize": 10, "titleColor": "#222", "titleAlign": "right", "titleBaseline": "alphabetic", "titleX": 614, "titleY": -14}}}
                }
              ]
            },
            {
              "width": 9,
              "height": 244,
              "view": {"stroke": "#5a5a5a", "strokeWidth": 0.8},
              "data": {"name": "fssbar"},
              "mark": {"type": "rect"},
              "encoding": {
                "y": {"field": "lo", "type": "quantitative", "scale": {"domain": [0, 1], "nice": false, "zero": false},
                  "axis": {"orient": "right", "values": [0, 0.1, 0.2, 0.3, 0.4, 0.5, 0.6, 0.7, 0.8, 0.9, 1], "tickCount": 40, "format": ".1f", "labelOverlap": false, "labelFont": "Liberation Sans", "labelFontSize": 8.5, "labelColor": "#555", "labelPadding": 4, "title": "Fractions Skill Score", "titleFontSize": 11.5, "titleColor": "#444", "titlePadding": 3}},
                "y2": {"field": "hi"},
                "color": {"field": "m", "type": "quantitative", "legend": null,
                  "scale": {"type": "threshold", "domain": [0.1, 0.2, 0.3, 0.4, 0.5, 0.6, 0.7, 0.8], "range": ["#4a94e4", "#74b6ee", "#a6d9f5", "#d6f1f8", "#c5e335", "#ffe51c", "#ffbf1c", "#ff981c", "#ff5116"]}}
              }
            }
          ]
        },
        {
          "spacing": 8,
          "resolve": {"scale": {"color": "independent"}},
          "hconcat": [
            {
              "width": 610,
              "height": 243,
              "resolve": {"scale": {"x": "independent"}, "axis": {"x": "independent"}},
              "layer": [
                {
                  "data": {"name": "c"},
                  "mark": {"type": "rect"},
                  "encoding": {
                    "x": {"field": "c", "type": "ordinal", "sort": null, "scale": {"paddingInner": 0, "paddingOuter": 0},
                      "axis": {"orient": "top", "labelExpr": "split(datum.label, ' ')[1]", "labelAngle": 0, "labelFontSize": 9.5, "labelBaseline": "alphabetic", "labelPadding": 5.5, "title": "Temporal Scale (hour)", "titleFontSize": 11.5, "titleBaseline": "alphabetic", "titleY": -14.5}},
                    "y": {"field": "k", "type": "ordinal", "sort": null, "scale": {"domain": ["260", "220", "180", "140", "100", "60", "20"], "paddingInner": 0, "paddingOuter": 0},
                      "axis": {"title": "Spatial Scale (Km)", "labelFontSize": 10, "labelPadding": 0, "titleFontSize": 12, "titlePadding": -2}},
                    "color": {"field": "d", "type": "quantitative", "legend": null,
                      "scale": {"type": "threshold",
                        "domain": [-0.5, -0.45, -0.4, -0.35, -0.3, -0.25, -0.2, -0.15, -0.1, -0.05, 0, 0.05, 0.1, 0.15, 0.2, 0.25, 0.3, 0.35, 0.4, 0.45, 0.5],
                        "range": ["#5c0a8c", "#6a0aa6", "#8a10d0", "#2a2af2", "#5252f2", "#7a7af4", "#a4a4f6", "#3ef2f2", "#3ee0a6", "#0db34f", "#62e812", "#66ec10", "#ffff2a", "#ffc52a", "#ff9d20", "#f76a24", "#ee3c18", "#e8260e", "#dc1010", "#c20a14", "#a40a1a", "#8c0a1a"]}}
                  }
                },
                {
                  "data": {"name": "c"},
                  "mark": {"type": "text", "font": "Liberation Mono", "fontWeight": "bold", "fontSize": 6.5, "color": "#2b2b2b"},
                  "encoding": {
                    "x": {"field": "c", "type": "ordinal", "sort": null, "axis": null},
                    "y": {"field": "k", "type": "ordinal", "sort": null},
                    "text": {"field": "p", "type": "quantitative", "format": ".0%"}
                  }
                },
                {
                  "data": {"name": "c"}, "transform": [{"filter": "datum.k === '260'"}],
                  "mark": {"type": "rect", "opacity": 0},
                  "encoding": {"y": {"field": "k", "type": "ordinal", "sort": null}, "x": {"field": "c", "type": "ordinal", "sort": null, "scale": {"paddingInner": 0, "paddingOuter": 0},
                    "axis": {"orient": "bottom", "labelExpr": "split(datum.label, ' ')[1] === '03' ? split(datum.label, ' ')[0] : ''", "labelAngle": 0, "labelFontSize": 10, "labelBaseline": "alphabetic", "labelPadding": 10, "title": "Threshold (mm)", "titleFontSize": 11.5, "titleBaseline": "alphabetic", "titleY": 19}}}
                },
                {
                  "data": {"name": "c"}, "transform": [{"filter": "datum.k === '260'"}],
                  "mark": {"type": "rect", "opacity": 0},
                  "encoding": {"y": {"field": "k", "type": "ordinal", "sort": null}, "x": {"field": "c", "type": "ordinal", "sort": null,
                    "axis": {"orient": "top", "labels": false, "title": "(c)", "titleFont": "Liberation Serif", "titleFontSize": 13, "titleColor": "#2a2a2a", "titleAlign": "left", "titleBaseline": "alphabetic", "titleX": -28, "titleY": -14}}}
                },
                {
                  "data": {"name": "c"}, "transform": [{"filter": "datum.k === '260'"}],
                  "mark": {"type": "rect", "opacity": 0},
                  "encoding": {"y": {"field": "k", "type": "ordinal", "sort": null}, "x": {"field": "c", "type": "ordinal", "sort": null,
                    "axis": {"orient": "bottom", "labels": false, "title": "Start:\u00a0201007031200", "titleFont": "Liberation Mono", "titleFontWeight": "bold", "titleFontSize": 9.5, "titleColor": "#222", "titleAlign": "left", "titleBaseline": "alphabetic", "titleX": 1, "titleY": 19}}}
                },
                {
                  "data": {"name": "c"}, "transform": [{"filter": "datum.k === '260'"}],
                  "mark": {"type": "rect", "opacity": 0},
                  "encoding": {"y": {"field": "k", "type": "ordinal", "sort": null}, "x": {"field": "c", "type": "ordinal", "sort": null,
                    "axis": {"orient": "bottom", "labels": false, "title": "End:\u00a0201008021200", "titleFont": "Liberation Mono", "titleFontWeight": "bold", "titleFontSize": 9.5, "titleColor": "#222", "titleAlign": "right", "titleBaseline": "alphabetic", "titleX": 610, "titleY": 19}}}
                },
                {
                  "data": {"name": "c"}, "transform": [{"filter": "datum.k === '260'"}],
                  "mark": {"type": "rect", "opacity": 0},
                  "encoding": {"y": {"field": "k", "type": "ordinal", "sort": null}, "x": {"field": "c", "type": "ordinal", "sort": null,
                    "axis": {"orient": "top", "labels": false, "title": "Ens", "titleFont": "Liberation Mono", "titleFontWeight": "bold", "titleFontSize": 7, "titleColor": "#222", "titleAlign": "left", "titleBaseline": "alphabetic", "titleX": 0, "titleY": -15}}}
                },
                {
                  "data": {"name": "c"}, "transform": [{"filter": "datum.k === '260'"}],
                  "mark": {"type": "rect", "opacity": 0},
                  "encoding": {"y": {"field": "k", "type": "ordinal", "sort": null}, "x": {"field": "c", "type": "ordinal", "sort": null,
                    "axis": {"orient": "top", "labels": false, "title": "MF2km-MF10km", "titleFont": "Liberation Mono", "titleFontWeight": "bold", "titleFontSize": 10, "titleColor": "#222", "titleAlign": "left", "titleBaseline": "alphabetic", "titleX": 15, "titleY": -15}}}
                },
                {
                  "data": {"name": "c"}, "transform": [{"filter": "datum.k === '260'"}],
                  "mark": {"type": "rect", "opacity": 0},
                  "encoding": {"y": {"field": "k", "type": "ordinal", "sort": null}, "x": {"field": "c", "type": "ordinal", "sort": null,
                    "axis": {"orient": "top", "labels": false, "title": "RR1H", "titleFont": "Liberation Mono", "titleFontWeight": "bold", "titleFontSize": 7, "titleColor": "#222", "titleAlign": "left", "titleBaseline": "alphabetic", "titleX": 497, "titleY": -15}}}
                },
                {
                  "data": {"name": "c"}, "transform": [{"filter": "datum.k === '260'"}],
                  "mark": {"type": "rect", "opacity": 0},
                  "encoding": {"y": {"field": "k", "type": "ordinal", "sort": null}, "x": {"field": "c", "type": "ordinal", "sort": null,
                    "axis": {"orient": "top", "labels": false, "title": "12-22h", "titleFont": "Liberation Mono", "titleFontWeight": "bold", "titleFontSize": 10, "titleColor": "#222", "titleAlign": "left", "titleBaseline": "alphabetic", "titleX": 534, "titleY": -15}}}
                },
                {
                  "data": {"name": "c"}, "transform": [{"filter": "datum.k === '260'"}],
                  "mark": {"type": "rect", "opacity": 0},
                  "encoding": {"y": {"field": "k", "type": "ordinal", "sort": null}, "x": {"field": "c", "type": "ordinal", "sort": null,
                    "axis": {"orient": "top", "labels": false, "title": "Chubu", "titleFont": "Liberation Mono", "titleFontWeight": "bold", "titleFontSize": 10, "titleColor": "#222", "titleAlign": "right", "titleBaseline": "alphabetic", "titleX": 610, "titleY": -15}}}
                }
              ]
            },
            {
              "width": 9,
              "height": 243,
              "view": {"stroke": null},
              "resolve": {"scale": {"color": "shared"}},
              "layer": [
                {
                  "data": {"name": "diffbar"},
                  "mark": {"type": "rect"},
                  "encoding": {
                    "y": {"field": "lo", "type": "quantitative", "scale": {"domain": [-0.56, 0.54], "nice": false, "zero": false},
                      "axis": {"orient": "right", "values": [-0.5, -0.45, -0.4, -0.35, -0.3, -0.25, -0.2, -0.15, -0.1, -0.05, 0, 0.05, 0.1, 0.15, 0.2, 0.25, 0.3, 0.35, 0.4, 0.45, 0.5], "tickCount": 40, "format": ".2f", "labelOverlap": false, "labelFont": "Liberation Sans", "labelFontSize": 8, "labelColor": "#444", "labelPadding": 4, "title": "FSS Difference", "titleFontSize": 12, "titleColor": "#333", "titlePadding": 1}},
                    "y2": {"field": "hi"},
                    "color": {"field": "m", "type": "quantitative", "legend": null,
                      "scale": {"type": "threshold",
                        "domain": [-0.5, -0.45, -0.4, -0.35, -0.3, -0.25, -0.2, -0.15, -0.1, -0.05, 0, 0.05, 0.1, 0.15, 0.2, 0.25, 0.3, 0.35, 0.4, 0.45, 0.5],
                        "range": ["#5c0a8c", "#6a0aa6", "#8a10d0", "#2a2af2", "#5252f2", "#7a7af4", "#a4a4f6", "#3ef2f2", "#3ee0a6", "#0db34f", "#62e812", "#66ec10", "#ffff2a", "#ffc52a", "#ff9d20", "#f76a24", "#ee3c18", "#e8260e", "#dc1010", "#c20a14", "#a40a1a", "#8c0a1a"]}}
                  }
                },
                {
                  "data": {"name": "ends"},
                  "mark": {"type": "point", "filled": true, "size": 144, "opacity": 1, "strokeWidth": 0},
                  "encoding": {
                    "y": {"field": "b", "type": "quantitative", "axis": {"orient": "right", "values": [-0.5, -0.45, -0.4, -0.35, -0.3, -0.25, -0.2, -0.15, -0.1, -0.05, 0, 0.05, 0.1, 0.15, 0.2, 0.25, 0.3, 0.35, 0.4, 0.45, 0.5], "tickCount": 40, "labelOverlap": false}},
                    "shape": {"field": "side", "type": "nominal", "legend": null, "scale": {"domain": ["above", "below"], "range": ["M-0.75,0L0.75,0L0,-2Z", "M-0.75,0L0.75,0L0,2Z"]}},
                    "color": {"field": "m", "type": "quantitative", "legend": null,
                      "scale": {"type": "threshold",
                        "domain": [-0.5, -0.45, -0.4, -0.35, -0.3, -0.25, -0.2, -0.15, -0.1, -0.05, 0, 0.05, 0.1, 0.15, 0.2, 0.25, 0.3, 0.35, 0.4, 0.45, 0.5],
                        "range": ["#5c0a8c", "#6a0aa6", "#8a10d0", "#2a2af2", "#5252f2", "#7a7af4", "#a4a4f6", "#3ef2f2", "#3ee0a6", "#0db34f", "#62e812", "#66ec10", "#ffff2a", "#ffc52a", "#ff9d20", "#f76a24", "#ee3c18", "#e8260e", "#dc1010", "#c20a14", "#a40a1a", "#8c0a1a"]}}
                  }
                }
              ]
            }
          ]
        }
      ]
    }
  ]
}
